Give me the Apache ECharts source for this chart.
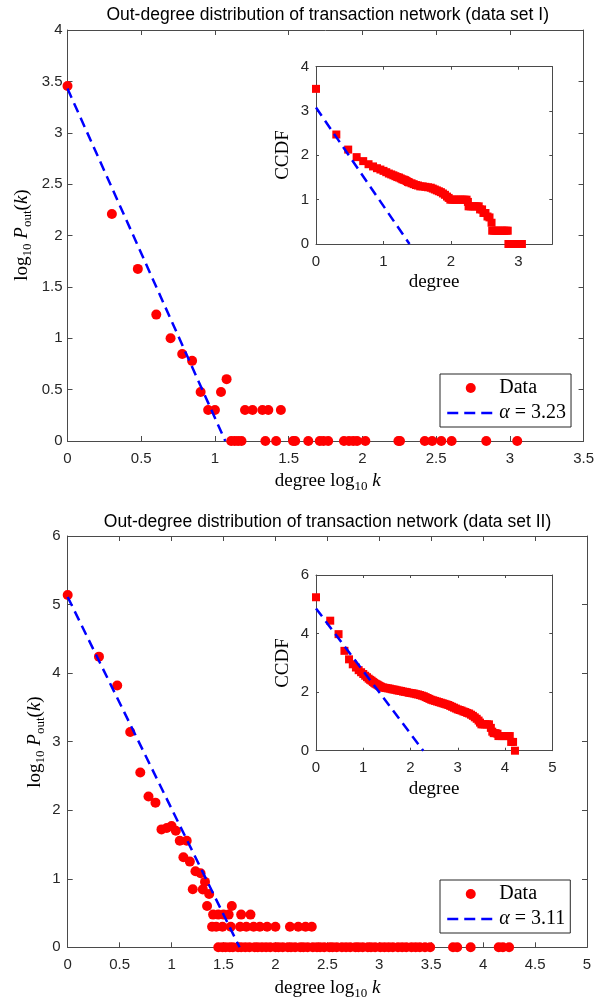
<!DOCTYPE html>
<html>
<head>
<meta charset="utf-8">
<script src="https://cdn.jsdelivr.net/npm/echarts@6/dist/echarts.min.js"></script>
<style>html,body{margin:0;padding:0;background:#fff}#c{width:597px;height:999px}</style>
</head>
<body>
<div id="c"></div>
<script>
// ---------- data set I ----------
const mainI = [
  [0,3.455],[0.301,2.21],[0.477,1.675],[0.602,1.23],[0.699,1.0],[0.778,0.846],[0.845,0.78],
  [0.903,0.477],[0.954,0.301],[1.0,0.301],[1.041,0.477],[1.079,0.602],
  [1.11,0],[1.134,0],[1.157,0],[1.18,0],
  [1.204,0.301],[1.255,0.301],[1.322,0.301],[1.362,0.301],[1.447,0.301],
  [1.342,0],[1.415,0],[1.53,0],[1.544,0],[1.633,0],[1.711,0],[1.736,0],[1.768,0],
  [1.875,0],[1.909,0],[1.938,0],[1.964,0],[2.02,0],[2.244,0],[2.255,0],[2.423,0],
  [2.473,0],[2.535,0],[2.605,0],[2.84,0],[3.05,0]
];
const fitI = [[0,3.43],[1.07,0]];
const ccdfI = [
  [0,3.5],[0.301,2.47],[0.477,2.13],[0.602,1.96],[0.699,1.87],[0.778,1.80],[0.845,1.75],
  [0.903,1.71],[0.954,1.68],[1.0,1.65],[1.041,1.62],[1.079,1.59],[1.114,1.57],[1.146,1.55],
  [1.176,1.53],[1.204,1.51],[1.23,1.50],[1.255,1.48],[1.279,1.46],[1.301,1.45],[1.322,1.44],
  [1.342,1.42],[1.362,1.40],[1.38,1.39],[1.415,1.37],[1.447,1.35],[1.48,1.33],[1.51,1.32],
  [1.544,1.30],[1.58,1.30],[1.62,1.29],[1.66,1.28],[1.70,1.27],[1.73,1.25],[1.76,1.23],
  [1.79,1.21],[1.82,1.19],[1.85,1.17],[1.88,1.14],[1.91,1.11],[1.94,1.07],[1.965,1.04],
  [1.99,1.0],[2.02,1.0],[2.05,1.0],[2.08,1.0],[2.11,1.0],[2.14,1.0],[2.17,1.0],[2.20,1.0],
  [2.23,1.0],[2.25,0.95],[2.26,0.85],[2.29,0.85],[2.32,0.85],[2.35,0.85],[2.38,0.85],
  [2.41,0.85],[2.43,0.78],[2.46,0.78],[2.48,0.70],[2.51,0.70],[2.54,0.62],[2.57,0.60],
  [2.60,0.48],[2.61,0.30],[2.64,0.30],[2.67,0.30],[2.70,0.30],[2.73,0.30],[2.76,0.30],
  [2.79,0.30],[2.82,0.30],[2.84,0.30],[2.85,0],[2.88,0],[2.91,0],[2.94,0],[2.97,0],
  [3.0,0],[3.03,0],[3.05,0]
];
const ccdfFitI = [[0,3.08],[1.385,0]];

// ---------- data set II ----------
const mainII = [
  [0,5.14],[0.301,4.24],[0.477,3.82],[0.602,3.14],[0.699,2.55],[0.778,2.2],[0.845,2.11],
  [0.903,1.72],[0.954,1.74],[1.0,1.77],[1.041,1.70],[1.079,1.555],[1.114,1.313],[1.146,1.555],
  [1.176,1.25],[1.204,0.846],[1.23,1.11],[1.279,1.08],[1.301,0.845],[1.322,0.954],
  [1.362,0.778],[1.342,0.602],[1.58,0.602],
  [1.40,0.477],[1.45,0.477],[1.50,0.477],[1.55,0.477],[1.67,0.477],[1.76,0.477],
  [1.39,0.301],[1.43,0.301],[1.49,0.301],[1.57,0.301],[1.66,0.301],[1.72,0.301],[1.79,0.301],
  [1.85,0.301],[1.92,0.301],[2.0,0.301],[2.14,0.301],[2.22,0.301],[2.29,0.301],[2.35,0.301],
  [1.45,0],[1.49,0],[1.52,0],[1.56,0],[1.59,0],[1.64,0],[1.67,0],[1.71,0],[1.75,0],[1.80,0],
  [1.83,0],[1.87,0],[1.91,0],[1.95,0],[2.0,0],[2.03,0],[2.07,0],[2.12,0],[2.15,0],[2.19,0],
  [2.24,0],[2.27,0],[2.31,0],[2.36,0],[2.40,0],[2.43,0],[2.47,0],[2.52,0],[2.55,0],[2.59,0],
  [2.64,0],[2.68,0],[2.72,0],[2.77,0],[2.80,0],[2.84,0],[2.89,0],[2.92,0],[2.96,0],[3.01,0],
  [3.05,0],[3.09,0],[3.13,0],[3.18,0],[3.22,0],[3.26,0],[3.31,0],[3.35,0],[3.39,0],[3.44,0],
  [3.49,0],[3.71,0],[3.75,0],[3.88,0],[4.15,0],[4.19,0],[4.25,0]
];
const fitII = [[0,5.11],[1.655,0]];
const ccdfII = [
  [0,5.24],[0.301,4.44],[0.477,3.98],[0.602,3.41],[0.699,3.12],[0.778,2.95],[0.845,2.84],
  [0.903,2.75],[0.954,2.68],[1.0,2.62],[1.041,2.56],[1.079,2.51],[1.114,2.46],[1.146,2.42],
  [1.176,2.39],[1.204,2.35],[1.23,2.32],[1.255,2.29],[1.279,2.27],[1.301,2.25],[1.322,2.23],
  [1.342,2.21],[1.362,2.19],[1.38,2.18],[1.415,2.16],[1.447,2.15],[1.48,2.14],[1.52,2.13],
  [1.56,2.12],[1.60,2.10],[1.64,2.09],[1.68,2.08],[1.72,2.06],[1.76,2.05],[1.80,2.04],
  [1.84,2.02],[1.88,2.01],[1.92,2.0],[1.96,1.98],[2.0,1.97],[2.04,1.96],[2.08,1.95],
  [2.12,1.93],[2.16,1.92],[2.20,1.90],[2.24,1.88],[2.28,1.86],[2.32,1.83],[2.36,1.80],
  [2.40,1.77],[2.44,1.74],[2.48,1.72],[2.52,1.70],[2.56,1.68],[2.60,1.66],[2.64,1.64],
  [2.68,1.62],[2.72,1.60],[2.76,1.58],[2.80,1.56],[2.84,1.53],[2.88,1.50],[2.92,1.47],
  [2.96,1.44],[3.0,1.41],[3.04,1.39],[3.08,1.37],[3.12,1.34],[3.16,1.32],[3.20,1.29],
  [3.24,1.27],[3.28,1.23],[3.32,1.19],[3.36,1.14],[3.40,1.09],[3.44,1.03],[3.47,0.96],
  [3.50,0.90],[3.54,0.90],[3.58,0.90],[3.62,0.90],[3.66,0.90],[3.70,0.78],[3.73,0.65],
  [3.76,0.60],[3.80,0.60],[3.84,0.58],[3.86,0.50],[3.90,0.50],[3.94,0.50],[3.98,0.50],
  [4.02,0.50],[4.06,0.50],[4.10,0.50],[4.13,0.30],[4.17,0.30],[4.21,0]
];
const ccdfFitII = [[0,4.86],[2.27,0]];

// ---------- labels ----------
const titleI = 'Out-degree distribution of transaction network (data set I)';
const titleII = 'Out-degree distribution of transaction network (data set II)';
const alphaI = '3.23';
const alphaII = '3.11';

const AX = '#4a4a4a', TXT = '#262626', RED = '#ff0000', BLUE = '#0000ff';
const SANS = 'Liberation Sans', SERIF = 'Liberation Serif';

function xPair(grid, min, max, interval, tick, hideMax) {
  const base = {type:'value', gridIndex:grid, min, max, interval, splitLine:{show:false},
    axisLine:{show:true, onZero:false, lineStyle:{color:AX, width:1}},
    axisTick:{show:true, inside:true, length:tick, lineStyle:{color:AX}}};
  return [
    Object.assign({}, base, {position:'bottom',
      axisLabel:{color:TXT, fontSize:15, fontFamily:SANS, margin:10, showMaxLabel: !hideMax,
        formatter: v => (hideMax && v === max) ? '' : String(v)}}),
    Object.assign({}, base, {position:'top', axisLabel:{show:false}})
  ];
}
function yPair(grid, min, max, interval, tick, margin) {
  const base = {type:'value', gridIndex:grid, min, max, interval, splitLine:{show:false},
    axisLine:{show:true, onZero:false, lineStyle:{color:AX, width:1}},
    axisTick:{show:true, inside:true, length:tick, lineStyle:{color:AX}}};
  return [
    Object.assign({}, base, {position:'left',
      axisLabel:{color:TXT, fontSize:15, fontFamily:SANS, margin:margin}}),
    Object.assign({}, base, {position:'right', axisLabel:{show:false}})
  ];
}

const xAxis = [].concat(
  xPair(0, 0, 3.5, 0.5, 5, false),
  xPair(1, 0, 3.5, 1, 3, true),
  xPair(2, 0, 5, 0.5, 5, false),
  xPair(3, 0, 5, 1, 3, false)
);
const yAxis = [].concat(
  yPair(0, 0, 4, 0.5, 5, 5),
  yPair(1, 0, 4, 1, 3, 7),
  yPair(2, 0, 6, 1, 5, 7),
  yPair(3, 0, 6, 2, 3, 7)
);

const grid = [
  {left:67.5, top:30, width:520.5, height:411},
  {left:316, top:66.7, width:236.3, height:177.3, show:true, backgroundColor:'#fff', borderWidth:0},
  {left:67.7, top:536, width:519.3, height:411.3},
  {left:316, top:575, width:236.3, height:175.7, show:true, backgroundColor:'#fff', borderWidth:0}
];

function scatter(name, data, xi, yi, sym, size) {
  return {type:'scatter', name, data, xAxisIndex:xi, yAxisIndex:yi, symbol:sym, symbolSize:size,
    itemStyle:{color:RED, opacity:1}, clip:false, silent:true, z:3};
}
function fit(name, data, xi, yi) {
  return {type:'line', name, data, xAxisIndex:xi, yAxisIndex:yi, symbol:'none', showSymbol:false,
    lineStyle:{color:BLUE, width:2.5, type:[10,6]}, itemStyle:{color:BLUE}, silent:true, z:4};
}

const series = [
  scatter('Data', mainI, 0, 0, 'circle', 10),
  fit('α = ' + alphaI, fitI, 0, 0),
  scatter('ccdfI', ccdfI, 2, 2, 'rect', 8),
  fit('ccdfFitI', ccdfFitI, 2, 2),
  scatter('Data ', mainII, 4, 4, 'circle', 10),
  fit('α = ' + alphaII, fitII, 4, 4),
  scatter('ccdfII', ccdfII, 6, 6, 'rect', 8),
  fit('ccdfFitII', ccdfFitII, 6, 6)
];

const legRich = {
  i:{fontFamily:SERIF, fontStyle:'italic', fontSize:20, color:'#000'},
  n:{fontFamily:SERIF, fontSize:20, color:'#000'}
};
function legend(names, top) {
  return {data:[{name:names[0]}, {name:names[1], itemStyle:{opacity:0, borderWidth:0}}],
    orient:'vertical', left:440, top:top, padding:[4,5,4,6],
    itemWidth:47, itemHeight:10, itemGap:5, borderColor:'#262626', borderWidth:1,
    backgroundColor:'#fff', borderRadius:0, selectedMode:false,
    lineStyle:{type:[11,6], width:2.5},
    textStyle:{fontFamily:SERIF, fontSize:20, color:'#000', rich:legRich},
    formatter: n => n.startsWith('α') ? '{i|α}{n|' + n.slice(1) + '}' : '{n|' + n.trim() + '}'};
}

const labRich = {
  r:{fontFamily:SERIF, fontSize:19, color:'#262626', lineHeight:24, verticalAlign:'middle'},
  i:{fontFamily:SERIF, fontSize:19, fontStyle:'italic', color:'#262626', lineHeight:24, verticalAlign:'middle'},
  s:{fontFamily:SERIF, fontSize:13, color:'#262626', lineHeight:12, verticalAlign:'bottom'}
};
function txt(text, x, y, rot, rich) {
  return {type:'text', x, y, rotation:rot || 0, silent:true, z:10,
    style:{text, rich: rich || labRich, align:'center', verticalAlign:'middle'}};
}
const ylab = '{r|log}{s|10}{r| }{i|P}{s|out}{r|(}{i|k}{r|)}';
const xlab = '{r|degree log}{s|10}{r| }{i|k}';
const titleRich = {t:{fontFamily:SANS, fontSize:17.5, color:'#000'}};

const graphic = [
  txt('{t|' + titleI + '}', 327.7, 15, 0, titleRich),
  txt('{t|' + titleII + '}', 327.5, 522, 0, titleRich),
  txt(ylab, 22, 235, Math.PI/2),
  txt(xlab, 327.7, 481, 0),
  txt(ylab, 35, 742, Math.PI/2),
  txt(xlab, 327.5, 988, 0),
  txt('{r|CCDF}', 283, 155, Math.PI/2),
  txt('{r|degree}', 434, 282, 0),
  txt('{r|CCDF}', 283, 663, Math.PI/2),
  txt('{r|degree}', 434, 789, 0)
];

const chart = echarts.init(document.getElementById('c'), null, {renderer:'canvas'});
chart.setOption({
  animation:false,
  backgroundColor:'#fff',
  grid, xAxis, yAxis, series,
  legend:[legend(['Data', 'α = ' + alphaI], 374), legend(['Data ', 'α = ' + alphaII], 880)],
  graphic
});
</script>
</body>
</html>
